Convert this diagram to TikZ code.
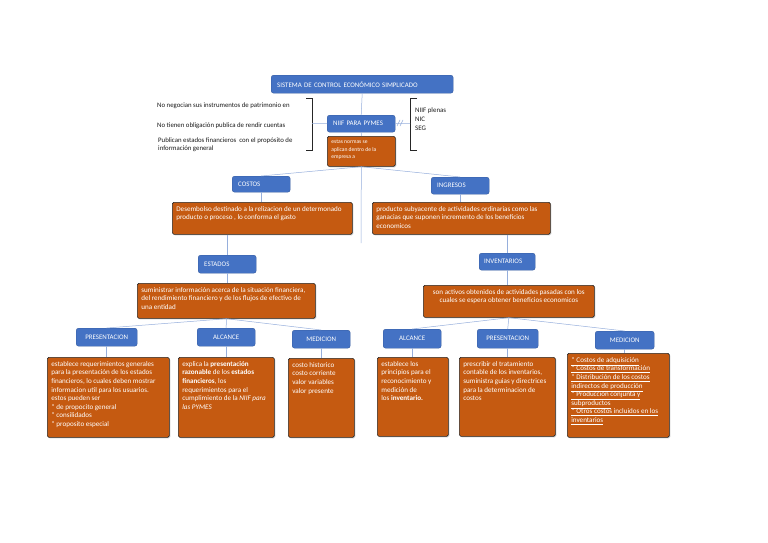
\documentclass[tikz,border=0pt]{standalone}
\usepackage{fontspec}
\setmainfont{Carlito}
\usetikzlibrary{shadows}
\definecolor{boxblue}{RGB}{68,114,196}
\definecolor{boxedge}{RGB}{56,93,160}
\definecolor{boxorange}{RGB}{197,90,17}
\definecolor{linkblue}{RGB}{150,175,220}
\newcommand{\toptext}[3]{\parbox[t][#1][t]{#2}{\raggedright\lineskiplimit=-20pt #3}}

\begin{document}
\begin{tikzpicture}[x=1pt,y=-1pt,
  hdr/.style={draw=boxedge, fill=boxblue, rounded corners=2.5pt, text=white, font=\fontsize{6.9}{8}\selectfont, anchor=north west, inner xsep=6pt, inner ysep=0pt},
  desc/.style={draw=black!85, line width=0.7pt, fill=boxorange, rounded corners=1.5pt, text=white, font=\fontsize{7.1}{8.6}\selectfont, anchor=north west, inner sep=4pt, drop shadow={shadow xshift=1pt, shadow yshift=-1pt, opacity=0.35}},
  note/.style={font=\fontsize{6.8}{8.2}\selectfont, text=black!90, anchor=west, inner sep=0pt},
  link/.style={draw=linkblue, line width=0.5pt}]
\useasboundingbox[fill=white] (0,0) rectangle (768,543);

\node[hdr, text width=170pt, align=left, minimum height=18pt] (sistema) at (271,75) {SISTEMA DE CONTROL ECONÓMICO SIMPLICADO};
\node[hdr, text width=56pt, align=left, minimum height=17pt] (niif) at (327,115) {NIIF PARA PYMES};
\node[desc, font=\fontsize{5.6}{7.3}\selectfont] (normas) at (327,136) {\toptext{22pt}{60pt}{estas normas se\\aplican dentro de la\\empresa a}};

\node[note] (negocian) at (157,106) {No negocian sus instrumentos de patrimonio en};
\node[note] (cuentas) at (157,126) {No tienen obligación publica de rendir cuentas};
\node[note, align=left] (publican) at (158,145) {Publican estados financieros \ con el propósito de\\información general};
\node[note, align=left, font=\fontsize{6.9}{9}\selectfont] (plenas) at (415,119) {NIIF plenas\\NIC\\SEG};
\coordinate (lbr) at (312,123.5);
\coordinate (rbr) at (410,123.5);
\draw[black!85, line width=0.6pt] (306,98) -- (312,98) -- (312,150) -- (306,150);
\draw[black!85, line width=0.6pt] (417,98) -- (410,98) -- (410,150) -- (417,150);

\node[hdr, text width=46pt, align=left, minimum height=16pt] (costos) at (232,176) {COSTOS};
\node[hdr, text width=46pt, align=left, minimum height=17pt] (ingresos) at (431,177) {INGRESOS};
\node[desc] (costosdesc) at (172,202) {\toptext{24pt}{172pt}{Desembolso destinado a la relizacion de un determonado\\producto o proceso , lo conforma el gasto}};
\node[desc] (ingresosdesc) at (372,202) {\toptext{24pt}{170pt}{producto subyacente de actividades ordinarias como las\\ganacias que suponen incremento de los beneficios\\economicos}};
\coordinate (medio) at (361,243);

\node[hdr, text width=46pt, align=left, minimum height=18pt] (estados) at (198,255) {ESTADOS};
\node[hdr, text width=46pt, align=left, minimum height=17pt, inner xsep=5pt] (inventarios) at (479,253) {INVENTARIOS};
\node[desc] (estadosdesc) at (137,283) {\toptext{27pt}{170pt}{suministrar información acerca de la situación financiera,\\del rendimiento financiero y de los flujos de efectivo de\\una entidad}};
\node[desc] (inventariosdesc) at (423,285) {\toptext{24pt}{163pt}{\centering son activos obtenidos de actividades pasadas con los\\cuales se espera obtener beneficios economicos}};

\node[hdr, minimum width=61pt, minimum height=18pt] (presest) at (76,328) {PRESENTACION};
\node[hdr, minimum width=58pt, minimum height=18pt] (alcest) at (197,328) {ALCANCE};
\node[hdr, minimum width=58pt, minimum height=18pt] (medest) at (292,330) {MEDICION};
\node[hdr, minimum width=58pt, minimum height=19pt] (alcinv) at (383,329) {ALCANCE};
\node[hdr, minimum width=61pt, minimum height=19pt] (presinv) at (477,329) {PRESENTACION};
\node[hdr, minimum width=59pt, minimum height=18pt] (medinv) at (595,331) {MEDICION};

\node[desc] (presestdesc) at (47,357) {\toptext{72pt}{114pt}{establece requerimientos generales\\para la presentación de los estados\\financieros, lo cuales deben mostrar\\informacion util para los usuarios.\\estos pueden ser\\{}* de propocito general\\{}* consilidados\\{}* proposito especial}};
\node[desc] (alcestdesc) at (178,357) {\toptext{72pt}{88pt}{explica la \textbf{presentación}\\\textbf{razonable} de los \textbf{estados}\\\textbf{financieros}, los\\requerimientos para el\\cumplimiento de la \textit{NIIF para}\\\textit{las PYMES}}};
\node[desc] (medestdesc) at (288,358) {\toptext{71pt}{58pt}{costo historico\\costo corriente\\valor variables\\valor presente}};
\node[desc] (alcinvdesc) at (377,357) {\toptext{71pt}{63pt}{establece los\\principios para el\\reconocimiento y\\medición de\\los \textbf{inventario.}}};
\node[desc] (presinvdesc) at (459,357) {\toptext{71pt}{88pt}{prescribir el tratamiento\\contable de los inventarios,\\suministra guias y directrices\\para la determinacion de\\costos}};
\node[desc] (medinvdesc) at (567,353) {\toptext{76pt}{94pt}{\underline{* Costos de adquisición}\\\underline{* Costos de transformación}\\\underline{* Distribución de los costos}\\\underline{indirectos de producción}\\\underline{* Producción conjunta y}\\\underline{subproductos}\\\underline{* Otros costos incluidos en los}\\\underline{inventarios}}};

\draw[link] (sistema.south) -- (niif.north);
\draw[link] (niif.south) -- (normas.north);
\draw[link] (lbr) -- (niif.west);
\draw[link] (niif.east) -- (rbr);
\draw[linkblue, line width=0.5pt] (397,126) -- (400,120) (400,126) -- (403,120);
\draw[link] (normas.south) -- (costos.north);
\draw[link] (normas.south) -- (ingresos.north);
\draw[link] (normas.south) -- (medio);
\draw[link] (costos.south) -- (costos.south |- costosdesc.north);
\draw[link] (ingresos.south) -- (ingresos.south |- ingresosdesc.north);
\draw[link] (estados.north |- costosdesc.south) -- (estados.north);
\draw[link] (inventarios.north |- ingresosdesc.south) -- (inventarios.north);
\draw[link] (estados.south) -- (estados.south |- estadosdesc.north);
\draw[link] (inventarios.south) -- (inventarios.south |- inventariosdesc.north);
\foreach \h in {presest, alcest, medest}
  \draw[link] (estadosdesc.south) -- (\h.north);
\foreach \h in {alcinv, presinv, medinv}
  \draw[link] (inventariosdesc.south) -- (\h.north);
\foreach \h in {presest, alcest, medest, alcinv, presinv, medinv}
  \draw[link] (\h.south) -- (\h.south |- \h desc.north);
\end{tikzpicture}
\end{document}
